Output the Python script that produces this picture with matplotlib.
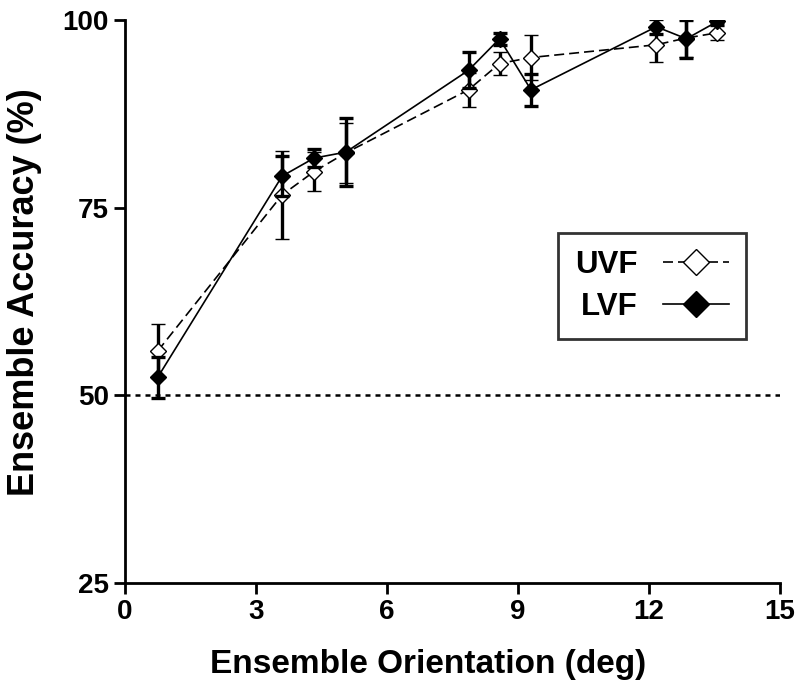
import matplotlib.pyplot as plt

# orientation offsets (deg)
x = [0.75, 3.6, 4.33, 5.06, 7.87, 8.58, 9.3, 12.17, 12.86, 13.57]

uvf = [55.9, 76.7, 79.8, 82.3, 90.7, 94.2, 95.0, 96.7, 97.6, 98.3]
uvf_err = [3.6, 5.9, 2.6, 4.0, 2.3, 1.5, 3.0, 2.3, 2.5, 0.9]

lvf = [52.4, 79.2, 81.6, 82.4, 93.3, 97.5, 90.7, 99.1, 97.5, 99.8]
lvf_err = [2.7, 2.7, 1.2, 4.5, 2.4, 0.8, 2.1, 1.0, 2.5, 0.3]

plt.rcParams['font.family'] = 'Liberation Sans'
plt.rcParams['font.weight'] = 'bold'

fig = plt.figure(figsize=(7.99, 6.87), dpi=100)
ax = fig.add_axes([0.1564, 0.1514, 0.8196, 0.8195])

ax.axhline(50, color='black', linestyle=(0, (2, 2)), linewidth=1.8, zorder=1)

ax.errorbar(x, uvf, yerr=uvf_err, color='black', linestyle=(0, (6, 3)), linewidth=1.2,
            marker='D', markersize=8, markerfacecolor='white', markeredgecolor='black',
            markeredgewidth=1.0, ecolor='black', elinewidth=2.4, capsize=5, capthick=2.4,
            label='UVF', zorder=3)
ax.errorbar(x, lvf, yerr=lvf_err, color='black', linestyle='-', linewidth=1.2,
            marker='D', markersize=8, markerfacecolor='black', markeredgecolor='black',
            ecolor='black', elinewidth=2.4, capsize=5, capthick=2.4,
            label='LVF', zorder=4)

ax.set_xlim(0, 15)
ax.set_ylim(25, 100)
ax.set_xticks([0, 3, 6, 9, 12, 15])
ax.set_yticks([25, 50, 75, 100])
ax.tick_params(axis='both', labelsize=20, width=2, length=8, direction='out')
ax.spines['top'].set_visible(False)
ax.spines['right'].set_visible(False)
ax.spines['left'].set_linewidth(2)
ax.spines['bottom'].set_linewidth(2)

ax.set_xlabel('Ensemble Orientation (deg)', fontsize=24, fontweight='bold', labelpad=17)
ax.set_ylabel('Ensemble Accuracy (%)', fontsize=26, fontweight='bold', labelpad=15)
ax.xaxis.label.set_x(0.463)
ax.yaxis.label.set_y(0.517)

handles, labels = ax.get_legend_handles_labels()
handles = [h[0] for h in handles]
leg = ax.legend(handles, labels, loc='center', bbox_to_anchor=(0.805, 0.5275),
                markerfirst=False, fontsize=22.5, frameon=True, fancybox=False,
                edgecolor='black', handlelength=2.1, borderpad=0.55,
                labelspacing=0.4, handletextpad=0.8, markerscale=1.7,
                borderaxespad=0)
leg.get_frame().set_linewidth(2)
for t in leg.get_texts():
    t.set_fontweight('bold')

fig.savefig('out.png', dpi=100)
